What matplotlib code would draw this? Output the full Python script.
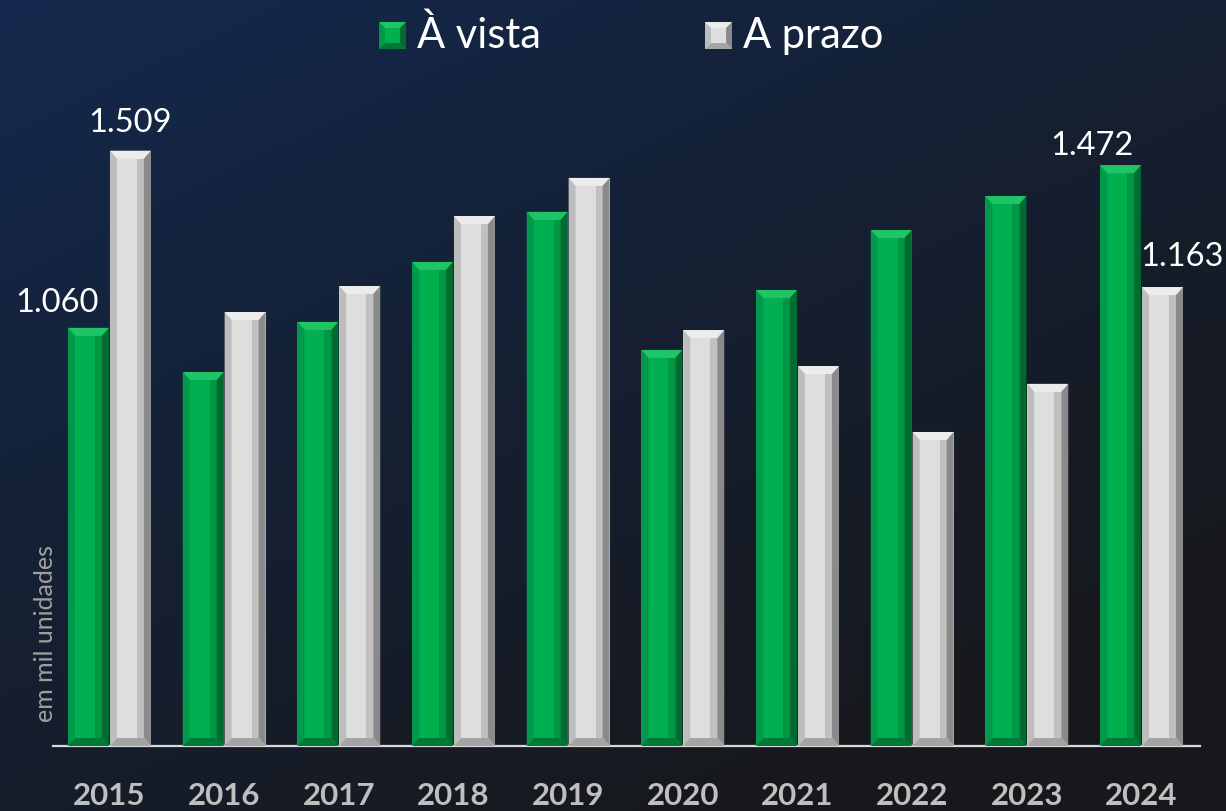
import matplotlib
matplotlib.use("Agg")
import matplotlib.pyplot as plt
import numpy as np
from matplotlib.patches import Polygon, Rectangle
from matplotlib.colors import to_rgb

years = ["2015", "2016", "2017", "2018", "2019", "2020", "2021", "2022", "2023", "2024"]
a_vista = [1060, 948, 1075, 1227, 1354, 1004, 1156, 1308, 1394, 1472]
a_prazo = [1509, 1100, 1166, 1343, 1440, 1054, 963, 796, 918, 1163]
series_names = ["À vista", "A prazo"]
labels_shown = {("À vista", 0): "1.060", ("A prazo", 0): "1.509",
                ("À vista", 9): "1.472", ("A prazo", 9): "1.163"}

W, H = 1226, 812
plt.rcParams['font.family'] = ['Lato', 'DejaVu Sans']
fig = plt.figure(figsize=(W / 100, H / 100), dpi=100)

# background gradient
bg = fig.add_axes([0, 0, 1, 1], zorder=-10)
bg.set_axis_off()
xx, yy = np.meshgrid(np.linspace(0, 1, 300), np.linspace(0, 1, 200))
t = np.clip((xx * 0.55 + yy * 0.75) / 1.1, 0, 1)
c0 = np.array(to_rgb("#13294d"))
c1 = np.array(to_rgb("#17181b"))
img = c0[None, None, :] * (1 - t[..., None]) + c1[None, None, :] * t[..., None]
bg.imshow(img, aspect='auto', extent=[0, 1, 0, 1], origin='upper')
bg.set_xlim(0, 1); bg.set_ylim(0, 1)

# main axes (pixel-tuned)
left_px, right_px, base_px, top_px = 53, 1200, 747, 100
ax = fig.add_axes([left_px / W, (H - base_px) / H, (right_px - left_px) / W, (base_px - top_px) / H])
ax.patch.set_alpha(0)
px_per_unit = 0.3945
ax.set_ylim(0, (base_px - top_px) / px_per_unit)
spacing = 114.7
ax.set_xlim(-(109.5 - left_px) / spacing, 9 + (right_px - 1141.5) / spacing)

x = np.arange(len(years))
bw = 41 / spacing
styles = {
    "À vista": dict(main="#00b050", top="#1fc464", left="#00984a", right="#006b30", bottom="#007a37"),
    "A prazo": dict(main="#dedede", top="#ececec", left="#bdbdbd", right="#8a8a8a", bottom="#a4a4a4"),
}
dx = 7 / spacing
dy = 8 / px_per_unit

bars_by_series = {}
for name, vals, off in [("À vista", a_vista, -bw / 2 - 0.004), ("A prazo", a_prazo, bw / 2 + 0.004)]:
    st = styles[name]
    bars = ax.bar(x + off, vals, width=bw, color=st["main"], zorder=2, linewidth=0)
    bars_by_series[name] = bars
    for r in bars:
        x0, w, h = r.get_x(), r.get_width(), r.get_height()
        polys = [
            ([(x0, h), (x0 + w, h), (x0 + w - dx, h - dy), (x0 + dx, h - dy)], st["top"]),
            ([(x0, h), (x0, 0), (x0 + dx, dy), (x0 + dx, h - dy)], st["left"]),
            ([(x0 + w, h), (x0 + w, 0), (x0 + w - dx, dy), (x0 + w - dx, h - dy)], st["right"]),
            ([(x0, 0), (x0 + w, 0), (x0 + w - dx, dy), (x0 + dx, dy)], st["bottom"]),
        ]
        for pts, col in polys:
            ax.add_patch(Polygon(pts, closed=True, facecolor=col, edgecolor='none', zorder=3))
        ax.add_patch(Polygon([(x0 + w - dx, h - dy), (x0 + w - dx, dy),
                              (x0 + w - 2 * dx, dy), (x0 + w - 2 * dx, h - dy)], closed=True,
                             facecolor=st["right"], alpha=0.35, edgecolor='none', zorder=3))

# data labels
offsets = {("À vista", 0): (-32, 17), ("A prazo", 0): (0, 20),
           ("À vista", 9): (-29, 11), ("A prazo", 9): (20, 22)}
for (name, i), txt in labels_shown.items():
    r = bars_by_series[name][i]
    ox, oy = offsets[(name, i)]
    ax.annotate(txt, (r.get_x() + r.get_width() / 2, r.get_height()),
                xytext=(ox, oy), textcoords='offset pixels', ha='center', va='baseline',
                color='white', fontsize=23.5, zorder=5)

for s in ["top", "right", "left"]:
    ax.spines[s].set_visible(False)
ax.spines["bottom"].set_color("#d9d9d9")
ax.spines["bottom"].set_linewidth(1.6)
ax.set_yticks([])
ax.set_xticks(x)
ax.set_xticklabels(years, fontsize=22.5, fontweight='bold', color='#bfbfbf')
ax.tick_params(axis='x', length=0, pad=25)

fig.text(45.5 / W, 1 - 633.5 / H, "em mil unidades", rotation=90, ha='center', va='center',
         color='#a0a0a0', fontsize=18)

# legend (manual)
leg_items = [("À vista", 379, 417), ("A prazo", 705, 743)]
for name, sx, tx in leg_items:
    st = styles[name]
    sq = 27
    ax_sq = fig.add_axes([sx / W, 1 - (23 + sq) / H, sq / W, sq / H])
    ax_sq.set_axis_off()
    ax_sq.set_xlim(0, 1); ax_sq.set_ylim(0, 1)
    ax_sq.add_patch(Rectangle((0, 0), 1, 1, facecolor=st["main"]))
    d = 0.22
    ax_sq.add_patch(Polygon([(0, 1), (1, 1), (1 - d, 1 - d), (d, 1 - d)], facecolor=st["top"]))
    ax_sq.add_patch(Polygon([(1, 1), (1, 0), (1 - d, d), (1 - d, 1 - d)], facecolor=st["right"]))
    ax_sq.add_patch(Polygon([(0, 1), (0, 0), (d, d), (d, 1 - d)], facecolor=st["left"]))
    ax_sq.add_patch(Polygon([(0, 0), (1, 0), (1 - d, d), (d, d)], facecolor=st["bottom"]))
    fig.text(tx / W, 1 - 48 / H, name, ha='left', va='baseline', color='white', fontsize=30)

fig.savefig("out.png", dpi=100)
